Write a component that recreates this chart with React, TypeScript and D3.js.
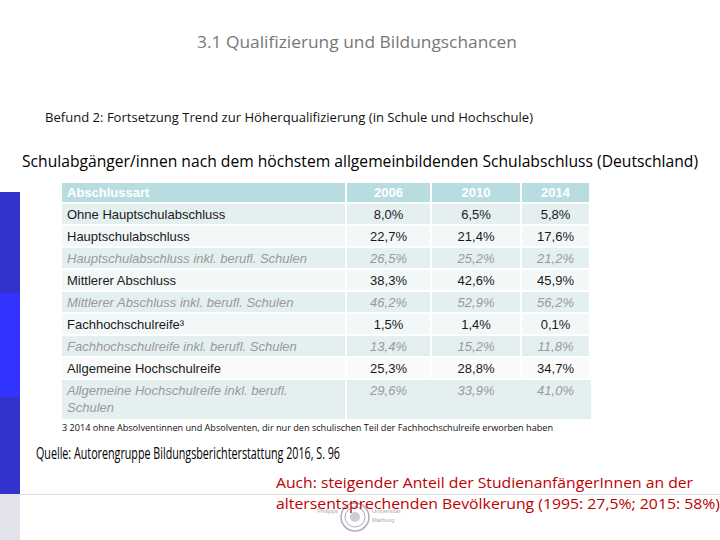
import React from "react";
import * as d3 from "d3";

const years = ["2006", "2010", "2014"];
const categories = [
  "Ohne Hauptschulabschluss",
  "Hauptschulabschluss",
  "Hauptschulabschluss inkl. berufl. Schulen",
  "Mittlerer Abschluss",
  "Mittlerer Abschluss inkl. berufl. Schulen",
  "Fachhochschulreife³",
  "Fachhochschulreife inkl. berufl. Schulen",
  "Allgemeine Hochschulreife",
  "Allgemeine Hochschulreife inkl. berufl.|Schulen",
];
const inklRow = [false, false, true, false, true, false, true, false, true];
const values2006 = [8.0, 22.7, 26.5, 38.3, 46.2, 1.5, 13.4, 25.3, 29.6];
const values2010 = [6.5, 21.4, 25.2, 42.6, 52.9, 1.4, 15.2, 28.8, 33.9];
const values2014 = [5.8, 17.6, 21.2, 45.9, 56.2, 0.1, 11.8, 34.7, 41.0];
const seriesValues = [values2006, values2010, values2014];

const locale = d3.formatLocale({ decimal: ",", thousands: ".", grouping: [3], currency: ["", "€"] });
const fmt = locale.format(".1f");

const W = 720;
const H = 540;

export default function App() {
  const tableLeft = 62;
  const labelRight = 345;
  const colEdges = [347, 432, 522, 591];
  const x = d3.scaleOrdinal<string, number>().domain(years).range([347, 432, 522]);
  const colW = (i: number) => colEdges[i + 1] - colEdges[i] - 2;
  const headerTop = 183;
  const headerH = 19;
  const rowTop0 = 204;
  const rowPitch = 22;
  const rowH = categories.map((_, i) => (i === categories.length - 1 ? 39 : 20));
  const rowY = d3.scaleLinear().domain([0, 1]).range([rowTop0, rowTop0 + rowPitch]);
  const rowFill = (i: number) =>
    i === 7 ? "#f9fbfb" : i % 2 === 0 ? "#e4eff0" : "#f2f7f8";
  const headerFill = "#b8dde1";

  const sans = "'Liberation Sans', Arial, sans-serif";
  const cal = "'Open Sans', 'Noto Sans', sans-serif";

  return (
    <svg width={W} height={H} style={{ position: "absolute", left: 0, top: 0, background: "#fff" }}>
      <rect x={0} y={0} width={W} height={H} fill="#fff" />
      {/* left accent bar */}
      <rect x={0} y={192} width={20} height={101} fill="#3333cc" />
      <rect x={0} y={293} width={20} height={104} fill="#3333ff" />
      <rect x={0} y={397} width={20} height={97} fill="#3333cc" />
      <rect x={0} y={494} width={20} height={46} fill="#e2e2ea" />
      <line x1={20} x2={720} y1={494.5} y2={494.5} stroke="#dcdcdc" strokeWidth={1} />

      <text x={357} y={48} textAnchor="middle" fontFamily={cal} fontSize={15.5} fill="#777" textLength={320} lengthAdjust="spacingAndGlyphs">
        3.1 Qualifizierung und Bildungschancen
      </text>
      <text x={45} y={122} fontFamily={cal} fontSize={12} fill="#111" textLength={488} lengthAdjust="spacingAndGlyphs">
        Befund 2: Fortsetzung Trend zur Höherqualifizierung (in Schule und Hochschule)
      </text>
      <text x={22} y={167} fontFamily={cal} fontSize={15.5} fill="#000" textLength={676} lengthAdjust="spacingAndGlyphs">
        Schulabgänger/innen nach dem höchstem allgemeinbildenden Schulabschluss (Deutschland)
      </text>

      {/* header */}
      <rect x={tableLeft} y={headerTop} width={labelRight - tableLeft} height={headerH} fill={headerFill} />
      <text x={tableLeft + 5} y={headerTop + 14} fontFamily={sans} fontSize={13} fontWeight="bold" fill="#fff">
        Abschlussart
      </text>
      {years.map((yr, j) => (
        <g key={yr}>
          <rect x={x(yr)} y={headerTop} width={colW(j)} height={headerH} fill={headerFill} />
          <text x={x(yr) + colW(j) / 2} y={headerTop + 14} textAnchor="middle" fontFamily={sans} fontSize={13} fontWeight="bold" fill="#fff">
            {yr}
          </text>
        </g>
      ))}

      {/* rows */}
      {categories.map((cat, i) => {
        const top = rowY(i);
        const lines = cat.split("|");
        const col = inklRow[i] ? "#9a9a9a" : "#1a1a1a";
        const style = inklRow[i] ? "italic" : "normal";
        return (
          <g key={cat}>
            <rect x={tableLeft} y={top} width={labelRight - tableLeft} height={rowH[i]} fill={rowFill(i)} />
            {lines.map((ln, k) => (
              <text key={k} x={tableLeft + 5} y={top + 15 + k * 17} fontFamily={sans} fontSize={13} fontStyle={style} fill={col}>
                {ln}
              </text>
            ))}
            {years.map((yr, j) => (
              <g key={yr}>
                <rect x={x(yr)} y={top} width={i === 8 ? colEdges[j + 1] - colEdges[j] : colW(j)} height={rowH[i]} fill={rowFill(i)} />
                <text x={x(yr) + colW(j) / 2} y={top + 15} textAnchor="middle" fontFamily={sans} fontSize={13} fontStyle={style} fill={col}>
                  {fmt(seriesValues[j][i])}%
                </text>
              </g>
            ))}
          </g>
        );
      })}

      <text x={62} y={431} fontFamily={cal} fontSize={8.5} fill="#111" textLength={491} lengthAdjust="spacingAndGlyphs">
        3 2014 ohne Absolventinnen und Absolventen, dir nur den schulischen Teil der Fachhochschulreife erworben haben
      </text>
      <text x={36} y={459} fontFamily={cal} fontSize={15.5} fill="#000" textLength={304} lengthAdjust="spacingAndGlyphs">
        Quelle: Autorengruppe Bildungsberichterstattung 2016, S. 96
      </text>

      {/* logo */}
      <g opacity={0.55}>
        <circle cx={355} cy={517} r={14} fill="none" stroke="#6a6a8a" strokeWidth={1.5} />
        <circle cx={355} cy={517} r={10} fill="none" stroke="#6a6a8a" strokeWidth={1} />
        <circle cx={355} cy={517} r={5} fill="#6a6a8a" opacity={0.6} />
        <text x={338} y={513} textAnchor="end" fontFamily={sans} fontSize={6} fill="#666">Philipps</text>
        <text x={372} y={513} fontFamily={sans} fontSize={6} fill="#666">Universität</text>
        <text x={372} y={522} fontFamily={sans} fontSize={6} fill="#666">Marburg</text>
      </g>

      <text x={276} y={488} fontFamily={cal} fontSize={15} fill="#c00000" textLength={417} lengthAdjust="spacingAndGlyphs">
        Auch: steigender Anteil der StudienanfängerInnen an der
      </text>
      <text x={276} y={509} fontFamily={cal} fontSize={15} fill="#c00000" textLength={444} lengthAdjust="spacingAndGlyphs">
        altersentsprechenden Bevölkerung (1995: 27,5%; 2015: 58%)
      </text>
    </svg>
  );
}
